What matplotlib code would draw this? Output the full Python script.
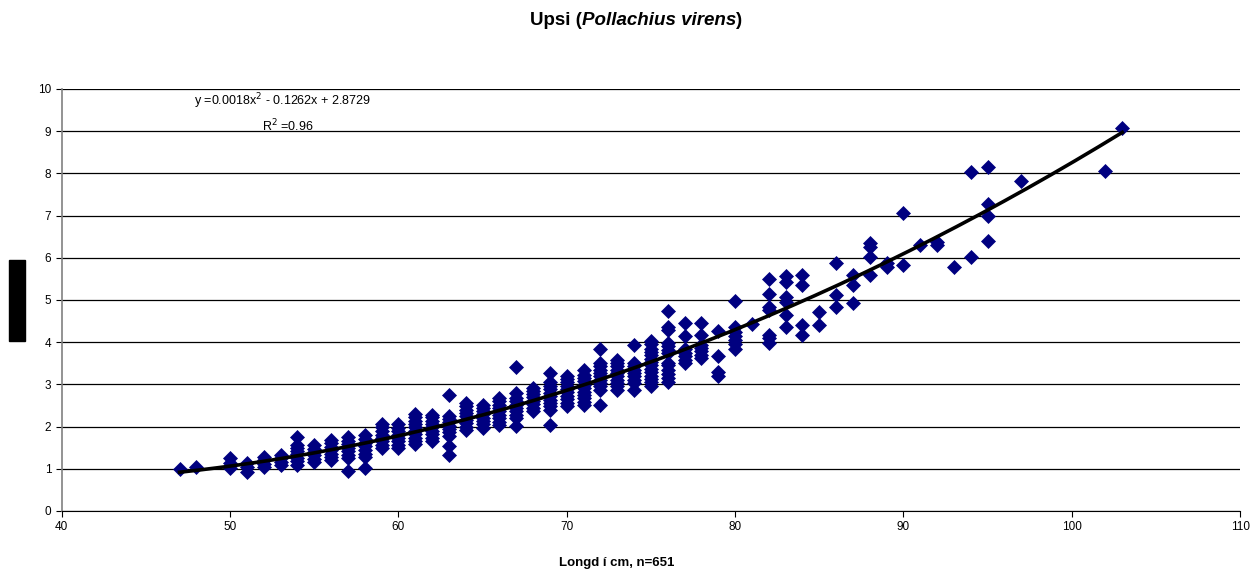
import matplotlib
matplotlib.use("Agg")
from matplotlib import pyplot as plt
import numpy as np

plt.rcParams['font.family'] = ['Liberation Sans', 'DejaVu Sans']

lengths = [47, 48, 50, 51, 52, 53, 54, 55, 56, 57, 58, 59, 60, 61, 62, 63, 64, 65,
           66, 67, 68, 69, 70, 71, 72, 73, 74, 75, 76, 77, 78, 79, 80, 81, 82, 83,
           84, 85, 86, 87, 88, 89, 90, 91, 92, 93, 94, 95, 97, 102, 103]
weight_groups = [
    [1.0],
    [1.04],
    [1.02, 1.13, 1.25],
    [0.93, 1.05, 1.13],
    [1.04, 1.12, 1.2, 1.28],
    [1.09, 1.17, 1.25, 1.32],
    [1.1, 1.18, 1.26, 1.34, 1.42, 1.5, 1.56, 1.75],
    [1.16, 1.24, 1.32, 1.4, 1.48, 1.56],
    [1.2, 1.28, 1.36, 1.44, 1.52, 1.6, 1.68],
    [0.95, 1.25, 1.33, 1.41, 1.5, 1.58, 1.66, 1.75],
    [1.02, 1.28, 1.36, 1.45, 1.53, 1.62, 1.7, 1.8],
    [1.49, 1.57, 1.65, 1.73, 1.81, 1.9, 1.98, 2.05],
    [1.49, 1.57, 1.65, 1.73, 1.81, 1.89, 1.97, 2.05],
    [1.58, 1.66, 1.74, 1.82, 1.9, 1.98, 2.06, 2.14, 2.22, 2.3],
    [1.66, 1.74, 1.82, 1.9, 1.98, 2.06, 2.14, 2.22, 2.28],
    [1.33, 1.55, 1.78, 1.86, 1.94, 2.02, 2.1, 2.18, 2.26, 2.75],
    [1.92, 2.0, 2.08, 2.16, 2.24, 2.32, 2.4, 2.48, 2.56],
    [1.97, 2.05, 2.13, 2.21, 2.29, 2.37, 2.45, 2.5],
    [2.04, 2.12, 2.2, 2.28, 2.36, 2.44, 2.52, 2.6, 2.68],
    [2.02, 2.2, 2.28, 2.36, 2.44, 2.52, 2.6, 2.68, 2.8, 3.42],
    [2.37, 2.45, 2.53, 2.61, 2.69, 2.77, 2.85, 2.92],
    [2.04, 2.4, 2.48, 2.56, 2.64, 2.72, 2.8, 2.88, 2.96, 3.05, 3.27],
    [2.49, 2.57, 2.65, 2.73, 2.81, 2.89, 2.97, 3.05, 3.13, 3.2],
    [2.51, 2.59, 2.67, 2.75, 2.83, 2.91, 2.99, 3.07, 3.15, 3.23, 3.33],
    [2.51, 2.87, 2.95, 3.03, 3.11, 3.19, 3.27, 3.35, 3.43, 3.5, 3.84],
    [2.87, 2.95, 3.03, 3.11, 3.19, 3.27, 3.35, 3.43, 3.5, 3.58],
    [2.87, 3.03, 3.11, 3.19, 3.27, 3.35, 3.43, 3.5, 3.93],
    [2.97, 3.05, 3.13, 3.21, 3.29, 3.37, 3.45, 3.53, 3.61, 3.69, 3.77, 3.85, 3.95, 4.02],
    [3.06, 3.15, 3.25, 3.35, 3.45, 3.5, 3.74, 3.82, 3.9, 3.98, 4.29, 4.36, 4.74],
    [3.5, 3.58, 3.67, 3.75, 3.84, 4.15, 4.46],
    [3.62, 3.7, 3.78, 3.86, 3.93, 4.17, 4.45],
    [3.2, 3.3, 3.67, 4.26],
    [3.84, 3.95, 4.05, 4.15, 4.25, 4.36, 4.98],
    [4.42],
    [3.98, 4.1, 4.17, 4.76, 4.83, 5.14, 5.49],
    [4.36, 4.64, 4.95, 5.07, 5.43, 5.57],
    [4.17, 4.4, 5.36, 5.6],
    [4.41, 4.72],
    [4.83, 5.12, 5.87],
    [4.93, 5.36, 5.59],
    [5.59, 6.02, 6.26, 6.35],
    [5.78, 5.87],
    [5.83, 7.06],
    [6.3],
    [6.3, 6.38],
    [5.78],
    [6.02, 8.03],
    [6.4, 6.99, 7.27, 8.15],
    [7.82],
    [8.06],
    [9.07],
]

# polynomial trendline y = a x^2 + b x + c
trend_coef = [0.0018, -0.1262, 2.8729]
r_squared = 0.96

x_pts = [l for l, g in zip(lengths, weight_groups) for _ in g]
y_pts = [w for g in weight_groups for w in g]

fig = plt.figure(figsize=(12.59, 5.74), dpi=100)
ax = fig.add_axes([0.049, 0.1098, 0.936, 0.7352])

ax.plot(x_pts, y_pts, 'D', color='#000080', markersize=7.5, markeredgewidth=0.5, zorder=3)

xs = np.linspace(min(lengths), max(lengths), 200)
ax.plot(xs, np.polyval(trend_coef, xs), color='black', linewidth=2.6, zorder=4)

ax.set_xlim(40, 110)
ax.set_ylim(0, 10)
ax.set_xticks(range(40, 111, 10))
ax.set_yticks(range(0, 11))
ax.tick_params(labelsize=8.5, length=4, width=0.8, colors='black')
ax.grid(axis='y', color='black', linewidth=0.9)
ax.set_axisbelow(True)
for side in ['top', 'right']:
    ax.spines[side].set_visible(False)
ax.spines['left'].set_color('#808080')
ax.spines['left'].set_linewidth(1.2)
ax.spines['bottom'].set_color('black')

a, b, c = trend_coef
ax.text(47.85, 9.72, f"y ={a}x$^2$ - {abs(b)}x + {c}", fontsize=9, va='center')
ax.text(51.9, 9.13, f"R$^2$ =$\\mathdefault{{{r_squared}}}$", fontsize=9, va='center')

# title: plain part, italic species name, closing bracket, chained left to right
t1 = fig.text(0.421, 0.965, "Upsi (", fontsize=13.5, fontweight='bold', va='center')
t2 = ax.annotate("Pollachius virens", xy=(1, 0), xycoords=t1, fontsize=13.5,
                 fontweight='bold', style='italic', va='bottom', annotation_clip=False)
ax.annotate(")", xy=(1, 0), xycoords=t2, fontsize=13.5, fontweight='bold',
            va='bottom', annotation_clip=False)

fig.text(0.49, 0.019, "Longd í cm, n=651", fontsize=9.5, fontweight='bold',
         ha='center', va='center')
fig.text(0.0135, 0.477, "     Vekt í kg     ", rotation=90, fontsize=8, color='black',
         ha='center', va='center',
         bbox=dict(facecolor='black', edgecolor='black', pad=2.5))

fig.savefig("out.png", dpi=100)
